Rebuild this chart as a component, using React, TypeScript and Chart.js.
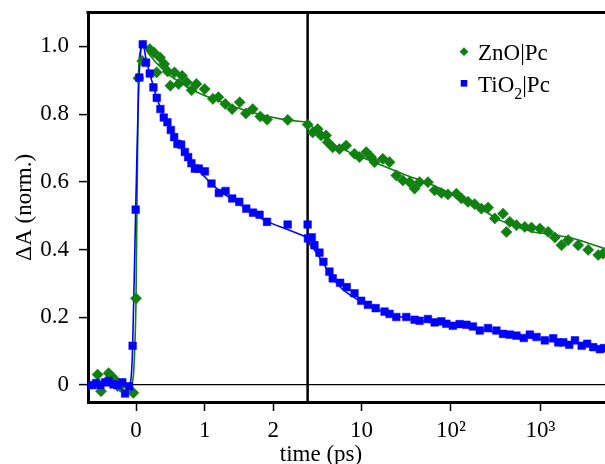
import React, { useEffect, useRef } from 'react';
import { Chart, registerables, LinearScale } from 'chart.js';

// ---------------- data ----------------
const xTickValues = [0, 1, 2, 10, 100, 1000];
const xTickLabels = ['0', '1', '2', '10', '10²', '10³'];
const yTickValues = [0, 0.2, 0.4, 0.6, 0.8, 1.0];
const yTickLabels = ['0', '0.2', '0.4', '0.6', '0.8', '1.0'];
const seriesLabels = ['ZnO|Pc', 'TiO2|Pc'];
const xTitle = 'time (ps)';
const yTitle = 'ΔA (norm.)';

const znoTime = [
  -0.56, -0.51, -0.4, -0.36, -0.32, -0.27, -0.23, -0.04, 0.0,
  0.034, 0.09, 0.2, 0.26, 0.3, 0.35, 0.41, 0.46, 0.5, 0.56,
  0.62, 0.67, 0.74, 0.81, 0.88, 1.0, 1.12, 1.2, 1.3, 1.4,
  1.51, 1.6, 1.7, 1.81, 1.91, 2.21, 2.5,
  2.85, 3.24, 3.54, 4.02, 4.19, 4.77, 5.67, 6.74, 8.35, 9.5,
  11.3, 12.8, 14.0, 17.3, 20.6, 24.5, 29.0, 34.5, 39.2, 44.6,
  55.3, 65.7, 78.1, 92.5, 115, 131, 155, 184, 219, 260,
  309, 382, 417, 454, 540, 669, 795, 985, 1220, 1450,
  1720, 2040, 2640, 3420, 4430, 5000,
];
const znoDA = [
  0.031, -0.018, 0.035, 0.026, 0.018, -0.003, -0.005, -0.023, 0.256,
  0.906, 0.957, 0.992, 0.982, 0.923, 0.967, 0.948, 0.926, 0.884, 0.923,
  0.889, 0.913, 0.894, 0.871, 0.889, 0.874, 0.845, 0.85, 0.83, 0.815,
  0.835, 0.802, 0.815, 0.793, 0.784, 0.783, 0.769,
  0.746, 0.756, 0.737, 0.737, 0.717, 0.702, 0.697, 0.707, 0.683, 0.673,
  0.688, 0.673, 0.658, 0.668, 0.658, 0.619, 0.604, 0.599, 0.58, 0.599,
  0.599, 0.575, 0.567, 0.563, 0.565, 0.551, 0.541, 0.534, 0.521, 0.524,
  0.492, 0.506, 0.452, 0.482, 0.472, 0.467, 0.465, 0.462, 0.452, 0.436,
  0.413, 0.428, 0.413, 0.399, 0.384, 0.388,
];

const tioTime = [
  -0.64, -0.58, -0.52, -0.45, -0.4, -0.33, -0.27, -0.2, -0.16, -0.1, -0.05, -0.005, 0.048,
  0.098, 0.146, 0.2, 0.253, 0.302, 0.355, 0.404, 0.457, 0.507, 0.555,
  0.603, 0.657, 0.711, 0.759, 0.807, 0.857, 0.915, 1.003, 1.099, 1.207,
  1.304, 1.401, 1.504, 1.606, 1.704, 1.8, 1.908, 2.209, 2.5,
  2.52, 2.78, 2.98, 3.39, 3.75, 4.38, 4.77, 5.77, 6.84, 8.35,
  9.92, 11.8, 14.4, 18.1, 20.6, 24.5, 31.7, 39.2, 44.6, 55.3,
  65.7, 78.1, 88.8, 105, 125, 149, 176, 210, 260, 322,
  382, 454, 540, 652, 761, 904, 1120, 1390, 1580, 1800,
  2100, 2430, 2890, 3330, 3890, 4630, 5130,
];
const tioDA = [
  0.0, 0.006, 0.0, 0.008, 0.012, 0.002, 0.0, 0.008, -0.025, -0.004, 0.116, 0.518, 0.908,
  1.006, 0.952, 0.92, 0.879, 0.848, 0.815, 0.79, 0.776, 0.753, 0.732,
  0.712, 0.71, 0.688, 0.673, 0.655, 0.639, 0.639, 0.631, 0.595, 0.567,
  0.573, 0.551, 0.541, 0.521, 0.509, 0.503, 0.482, 0.474, 0.474,
  0.433, 0.436, 0.413, 0.391, 0.364, 0.335, 0.315, 0.302, 0.289, 0.271,
  0.249, 0.237, 0.227, 0.217, 0.21, 0.201, 0.201, 0.193, 0.19, 0.195,
  0.185, 0.188, 0.181, 0.175, 0.18, 0.178, 0.173, 0.161, 0.168, 0.161,
  0.151, 0.149, 0.146, 0.139, 0.149, 0.142, 0.132, 0.138, 0.126, 0.126,
  0.119, 0.132, 0.116, 0.122, 0.112, 0.106, 0.109,
];

// fit curves: linear-time part (t <= 2.5) and log-time part (t >= 2.5)
const znoFitTime = [
  -0.7, -0.1, -0.06, -0.04, -0.02, 0, 0.034, 0.065, 0.1, 0.15, 0.25, 0.35, 0.5, 0.64, 0.85,
  1.13, 1.61, 2.1, 2.5, 3.5, 4.8, 7, 10, 17, 30, 63, 120, 230, 350, 600, 830, 1300, 2000, 3000, 5270,
];
const znoFitDA = [
  0, 0, 0.005, 0.025, 0.1, 0.256, 0.9, 0.99, 1.015, 0.99, 0.962, 0.94, 0.913, 0.894, 0.868,
  0.845, 0.81, 0.786, 0.776, 0.74, 0.712, 0.69, 0.673, 0.648, 0.622, 0.59, 0.555, 0.516, 0.487, 0.464, 0.452, 0.445, 0.437, 0.424, 0.403,
];

const tioFitTime = [
  -0.7, -0.12, -0.08, -0.05, -0.005, 0.045, 0.1, 0.15, 0.2, 0.3, 0.4, 0.5, 0.6, 0.8, 1.0, 1.13, 1.5, 1.9, 2.2, 2.5,
  2.62, 3, 3.5, 4.77, 6, 8, 11.3, 15, 25, 45, 100, 200, 450, 1100, 2400, 5270,
];
const tioFitDA = [
  0, 0, 0.01, 0.11, 0.52, 0.91, 1.006, 0.958, 0.92, 0.85, 0.795, 0.755, 0.717, 0.66, 0.615, 0.588, 0.535, 0.484, 0.46, 0.436,
  0.418, 0.398, 0.372, 0.315, 0.285, 0.261, 0.237, 0.223, 0.204, 0.19, 0.177, 0.165, 0.149, 0.134, 0.124, 0.109,
];

// ---------------- axis geometry (split linear / log time axis) ----------------
const X_MIN = -0.7;
const X_MAX = 5270;
const LIN_END = 2.5;
const DECADE = 1.3036; // linear units per decade in the log part
const Y_MIN = -0.05;
const Y_MAX = 1.1;

const GREEN = 'rgb(16,128,16)';
const BLUE = 'rgb(0,0,255)';
const FONT = "'Liberation Serif', 'Times New Roman', serif";
const FS = 23;

function warp(t: number): number {
  return t <= LIN_END ? t : LIN_END + DECADE * Math.log10(t / LIN_END);
}
function unwarp(u: number): number {
  return u <= LIN_END ? u : LIN_END * Math.pow(10, (u - LIN_END) / DECADE);
}

class SplitScale extends LinearScale {
  static id = 'split';
  determineDataLimits() {
    (this as any).min = warp(X_MIN);
    (this as any).max = warp(X_MAX);
  }
  buildTicks() {
    return xTickValues.map((v) => ({ value: v }));
  }
  getPixelForValue(value: number) {
    if (value === null || value === undefined) return NaN;
    return super.getPixelForValue(warp(value));
  }
  getValueForPixel(pixel: number) {
    return unwarp(super.getValueForPixel(pixel) as number);
  }
}

Chart.register(...registerables, SplitScale as any);

function drawRich(ctx: CanvasRenderingContext2D, text: string, x: number, y: number) {
  // digits are drawn as subscripts (chemical formula)
  const parts = text.split(/(\d+)/).filter((p) => p.length > 0);
  let cx = x;
  for (const p of parts) {
    if (/^\d+$/.test(p)) {
      ctx.font = `16px ${FONT}`;
      ctx.fillText(p, cx, y + 7);
    } else {
      ctx.font = `${FS}px ${FONT}`;
      ctx.fillText(p, cx, y);
    }
    cx += ctx.measureText(p).width;
  }
}

const framePlugin = {
  id: 'frame',
  beforeDatasetsDraw(chart: any) {
    const { ctx, chartArea: a, scales } = chart;
    const x = scales.x.getPixelForValue(LIN_END);
    ctx.save();
    ctx.strokeStyle = '#000';
    ctx.lineWidth = 2.5;
    ctx.beginPath();
    ctx.moveTo(x, a.top);
    ctx.lineTo(x, a.bottom);
    ctx.stroke();
    ctx.restore();
  },
  afterDraw(chart: any) {
    const { ctx, chartArea: a } = chart;
    ctx.save();
    ctx.strokeStyle = '#000';
    ctx.lineWidth = 3;
    ctx.beginPath();
    ctx.moveTo(a.left - 1.5, a.top);
    ctx.lineTo(a.right, a.top);
    ctx.stroke();

    ctx.fillStyle = '#000';
    ctx.font = `${FS}px ${FONT}`;
    ctx.textAlign = 'center';
    ctx.textBaseline = 'alphabetic';
    ctx.fillText(xTitle, 321, 461);

    // legend
    ctx.textAlign = 'left';
    ctx.fillStyle = GREEN;
    ctx.beginPath();
    ctx.moveTo(464 - 4.4, 51.7);
    ctx.lineTo(464, 51.7 - 4.4);
    ctx.lineTo(464 + 4.4, 51.7);
    ctx.lineTo(464, 51.7 + 4.4);
    ctx.closePath();
    ctx.fill();
    ctx.fillStyle = '#000';
    drawRich(ctx, seriesLabels[0], 478, 60);

    ctx.fillStyle = BLUE;
    ctx.fillRect(464 - 3.3, 83.3 - 3.3, 6.6, 6.6);
    ctx.fillStyle = '#000';
    drawRich(ctx, seriesLabels[1], 478, 92);
    ctx.restore();
  },
};

function pts(t: number[], v: number[], from = -Infinity, to = Infinity) {
  return t.map((x, i) => ({ x, y: v[i] })).filter((p) => p.x >= from && p.x <= to);
}

function fitLine(label: string, t: number[], v: number[], color: string, from: number, to: number) {
  return {
    label,
    data: pts(t, v, from, to),
    showLine: true,
    pointRadius: 0,
    borderColor: color,
    backgroundColor: color,
    borderWidth: 1.6,
    cubicInterpolationMode: 'monotone',
  };
}

export default function App() {
  const ref = useRef<HTMLCanvasElement>(null);
  useEffect(() => {
    const canvas = ref.current;
    if (!canvas) return;
    Chart.defaults.font.family = FONT;
    Chart.defaults.font.size = FS;
    Chart.defaults.color = '#000';
    const chart = new Chart(canvas, {
      type: 'scatter',
      data: {
        datasets: [
          {
            label: seriesLabels[1],
            data: pts(tioTime, tioDA),
            pointStyle: 'rect',
            pointRadius: 5.4,
            pointBackgroundColor: BLUE,
            pointBorderColor: BLUE,
            pointBorderWidth: 0.5,
            showLine: false,
          },
          {
            label: seriesLabels[0],
            data: pts(znoTime, znoDA),
            pointStyle: 'rectRot',
            pointRadius: 5.6,
            pointBackgroundColor: GREEN,
            pointBorderColor: GREEN,
            pointBorderWidth: 0.5,
            showLine: false,
          },
          fitLine(seriesLabels[1] + ' fit', tioFitTime, tioFitDA, BLUE, -Infinity, LIN_END),
          fitLine(seriesLabels[1] + ' fit', tioFitTime, tioFitDA, BLUE, LIN_END, Infinity),
          fitLine(seriesLabels[0] + ' fit', znoFitTime, znoFitDA, GREEN, -Infinity, LIN_END),
          fitLine(seriesLabels[0] + ' fit', znoFitTime, znoFitDA, GREEN, LIN_END, Infinity),
        ],
      } as any,
      options: {
        responsive: false,
        animation: false,
        events: [],
        layout: { autoPadding: false, padding: { top: 12.5, right: 0, bottom: 0, left: 0 } },
        plugins: { legend: { display: false }, tooltip: { enabled: false } },
        scales: {
          x: {
            type: 'split' as any,
            position: 'bottom',
            grid: {
              drawOnChartArea: false,
              drawTicks: true,
              tickLength: 9,
              tickWidth: 1.5,
              tickColor: '#000',
            },
            border: { display: true, color: '#000', width: 3 },
            ticks: {
              autoSkip: false,
              maxRotation: 0,
              padding: 6,
              font: { size: FS, family: FONT },
              color: '#000',
              callback: (v: any) => {
                const i = xTickValues.indexOf(Number(v));
                return i >= 0 ? xTickLabels[i] : '';
              },
            },
            afterFit: (s: any) => {
              s.height = 62;
              s.paddingLeft = 0;
              s.paddingRight = 0;
            },
          } as any,
          y: {
            type: 'linear',
            min: Y_MIN,
            max: Y_MAX,
            afterBuildTicks: (s: any) => {
              s.ticks = yTickValues.map((v) => ({ value: v }));
            },
            grid: {
              drawOnChartArea: true,
              drawTicks: true,
              tickLength: 9,
              tickWidth: 1.5,
              tickColor: '#000',
              lineWidth: 1.2,
              color: (c: any) => (c.tick && Math.abs(c.tick.value) < 1e-9 ? '#000' : 'rgba(0,0,0,0)'),
            },
            border: { display: true, color: '#000', width: 3 },
            ticks: {
              padding: 10,
              font: { size: FS, family: FONT },
              color: '#000',
              callback: (v: any) => {
                const i = yTickValues.findIndex((t) => Math.abs(t - Number(v)) < 1e-9);
                return i >= 0 ? yTickLabels[i] : '';
              },
            },
            title: {
              display: true,
              text: yTitle,
              font: { size: FS, family: FONT },
              color: '#000',
              padding: { top: 11, bottom: 0 },
            },
            afterFit: (s: any) => {
              s.width = 88;
              s.paddingTop = 0;
              s.paddingBottom = 0;
            },
          },
        },
      } as any,
      plugins: [framePlugin],
    });
    return () => chart.destroy();
  }, []);
  return (
    <div style={{ position: 'fixed', left: 0, top: 0, width: 605, height: 464, overflow: 'hidden', background: '#fff' }}>
      <canvas ref={ref} width={605} height={464} style={{ display: 'block' }} />
    </div>
  );
}
